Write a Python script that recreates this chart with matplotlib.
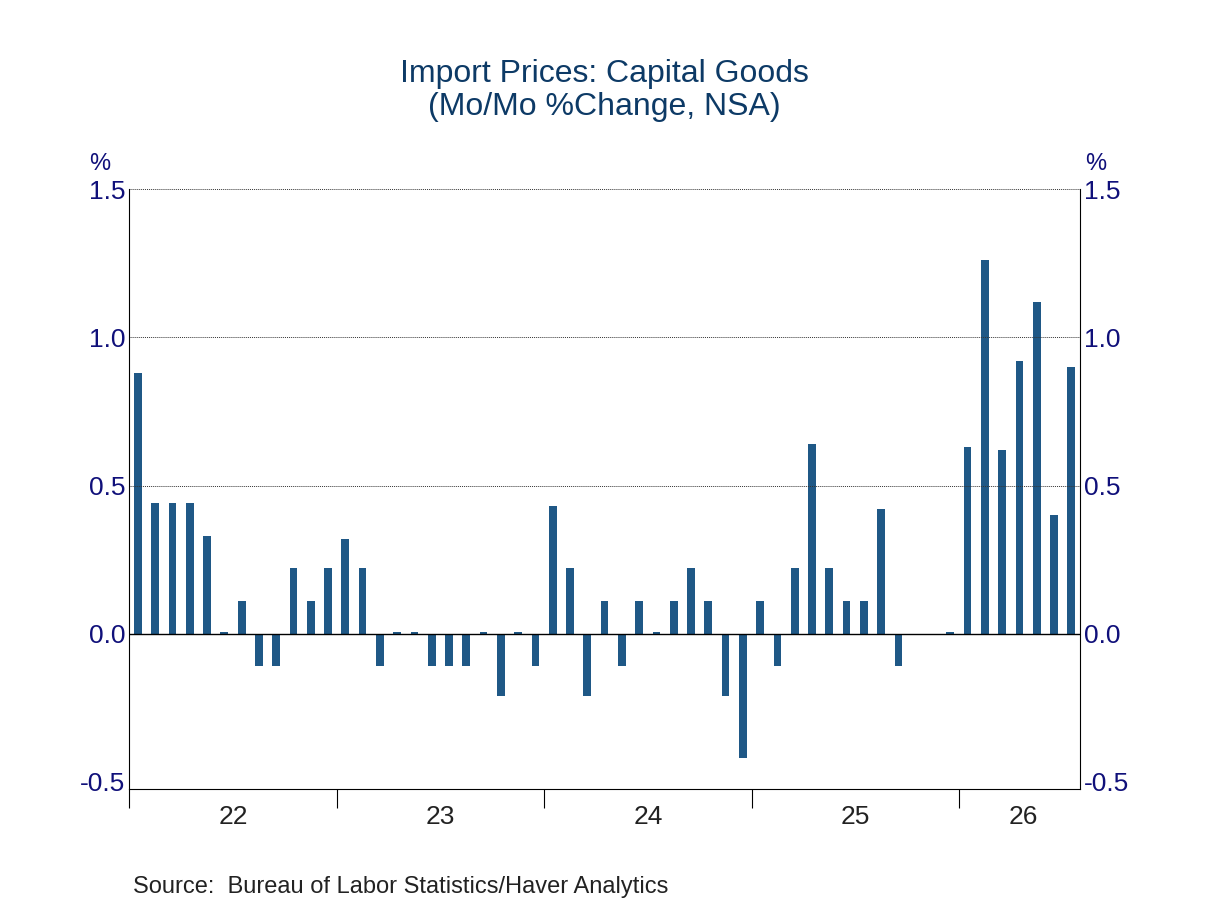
import numpy as np
import matplotlib
matplotlib.use('Agg')
import matplotlib.pyplot as plt

plt.rcParams['font.family'] = ['Liberation Sans', 'DejaVu Sans']

# monthly % change, Jan 2022 .. Jul 2026 (Oct/Nov 2025 missing)
values = [0.88, 0.44, 0.44, 0.44, 0.33, 0.0, 0.11, -0.11, -0.11, 0.22, 0.11, 0.22,
          0.32, 0.22, -0.11, 0.0, 0.0, -0.11, -0.11, -0.11, 0.0, -0.21, 0.0, -0.11,
          0.43, 0.22, -0.21, 0.11, -0.11, 0.11, 0.0, 0.11, 0.22, 0.11, -0.21, -0.42,
          0.11, -0.11, 0.22, 0.64, 0.22, 0.11, 0.11, 0.42, -0.11, np.nan, np.nan, 0.0,
          0.63, 1.26, 0.62, 0.92, 1.12, 0.40, 0.90]
years = ['22', '23', '24', '25', '26']

x = np.arange(len(values))
vals = np.array(values, dtype=float)
# zero months shown as a tiny stub like the reference
heights = np.where(vals == 0, 0.006, np.nan_to_num(vals))

fig = plt.figure(figsize=(12.08, 9.06), dpi=100)
ax = fig.add_axes([0.107, 0.129, 0.787, 0.662])
ax.bar(x, heights, width=0.45, color='#1f5886')
ax.axhline(0, color='black', linewidth=1)
for y in [0.5, 1.0, 1.5]:
    ax.axhline(y, color='#333333', linestyle=(0, (1, 1)), linewidth=0.7)

ax.set_xlim(-0.5, 54.5)
ax.set_ylim(-0.525, 1.5)
ticks = [-0.5, 0.0, 0.5, 1.0, 1.5]
ax.set_yticks(ticks)
ax.set_yticklabels([f'{t:.1f}' for t in ticks], fontsize=19, color='#10107a')
ax.tick_params(axis='y', length=0, right=True, labelright=True, pad=3)
ax.spines['top'].set_visible(False)

ax.set_xticks([-0.5 + 12 * i for i in range(5)])
ax.set_xticklabels([])
ax.tick_params(axis='x', length=14, direction='out')
for i, yr in enumerate(years):
    c = 5.5 + 12 * i if i < 4 else 51.2
    ax.text(c, -0.58, yr, ha='center', va='top', fontsize=19, color='#222222')

ax.text(-0.02, 1.55, '%', transform=ax.get_yaxis_transform(), ha='right', va='bottom',
        fontsize=17, color='#10107a')
ax.text(1.005, 1.55, '%', transform=ax.get_yaxis_transform(), ha='left', va='bottom',
        fontsize=17, color='#10107a')

fig.text(0.5, 0.9, 'Import Prices: Capital Goods\n(Mo/Mo %Change, NSA)', ha='center', va='center',
         fontsize=23, color='#0d3a66', linespacing=1.1)
fig.text(0.11, 1 - 893 / 906, 'Source:  Bureau of Labor Statistics/Haver Analytics',
         ha='left', va='baseline', fontsize=17, color='#222222')
fig.savefig('out.png', dpi=100)
